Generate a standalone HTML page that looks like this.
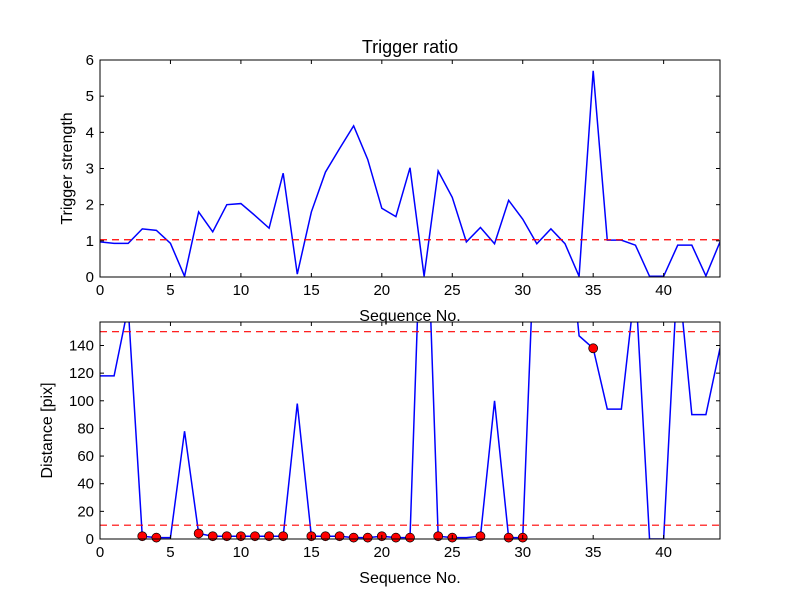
<!DOCTYPE html>
<html><head><meta charset="utf-8"><style>
body{margin:0;background:#fff;}
svg text{font-family:"Liberation Sans","DejaVu Sans",sans-serif;fill:#000;}
</style></head><body>
<svg id="chart" width="800" height="600" xmlns="http://www.w3.org/2000/svg">
<rect width="800" height="600" fill="#fff"/>
</svg>
<script>
const seqNo = Array.from({length:45},(_,i)=>i);
const triggerStrength = [0.97,0.93,0.93,1.33,1.29,0.93,0.02,1.8,1.25,2.0,2.03,1.7,1.35,2.87,0.08,1.8,2.9,3.55,4.18,3.25,1.9,1.67,3.02,0.02,2.93,2.2,0.97,1.37,0.92,2.12,1.6,0.92,1.33,0.92,0.02,5.7,1.02,1.02,0.88,0.02,0.02,0.88,0.88,0.03,0.97];
const triggerThreshold = 1.03;
const distance = [118,118,168,2,1,1,78,4,2,2,2,2,2,2,98,2,2,2,1,1,2,1,1,300,2,1,1,2,100,1,1,260,250,250,147,138,94,94,185,0,0,196,90,90,138];
const markerIdx = [3,4,7,8,9,10,11,12,13,15,16,17,18,19,20,21,22,24,25,27,29,30,35];
const distLines = [150,10];
const xTicks = [0,5,10,15,20,25,30,35,40];
const topYTicks = [0,1,2,3,4,5,6];
const botYTicks = [0,20,40,60,80,100,120,140];

const NS="http://www.w3.org/2000/svg";
const svg=document.getElementById('chart');
function el(tag,attrs,parent){const e=document.createElementNS(NS,tag);for(const k in attrs)e.setAttribute(k,attrs[k]);(parent||svg).appendChild(e);return e;}
const L=100,R=720;
const xS=v=>L+(v-0)/44*(R-L);

function panel(top,bot,ymax,yTicks,name,ylabel){
  const yS=v=>bot-(v/ymax)*(bot-top);
  const g=el('g',{});
  
  
  const cid='clip-'+name;
  const cp=el('clipPath',{id:cid},g);el('rect',{x:L,y:top,width:R-L,height:bot-top},cp);
  const plot=el('g',{'clip-path':'url(#'+cid+')'},g);
  return {g,plot,yS,top,bot,yTicks,ylabel};
}
function axes(p){
  const {g,yS,top,bot}=p;
  el('rect',{x:L,y:top,width:R-L,height:bot-top,fill:'none',stroke:'#000','stroke-width':1},g);
  xTicks.forEach(t=>{const x=xS(t);
    el('line',{x1:x,x2:x,y1:bot,y2:bot-4,stroke:'#000'},g);
    el('line',{x1:x,x2:x,y1:top,y2:top+4,stroke:'#000'},g);
    const tx=el('text',{x:x,y:bot+18,'text-anchor':'middle','font-size':15},g);tx.textContent=t;
    
    
  });
  p.yTicks.forEach(t=>{const y=yS(t);
    el('line',{x1:L,x2:L+4,y1:y,y2:y,stroke:'#000'},g);
    el('line',{x1:R,x2:R-4,y1:y,y2:y,stroke:'#000'},g);
    const tx=el('text',{x:L-6,y:y+5,'text-anchor':'end','font-size':15},g);tx.textContent=t;
    
    
  });
  const xl=el('text',{x:(L+R)/2,y:bot+44,'text-anchor':'middle','font-size':16},g);xl.textContent='Sequence No.';
  
  
  const cy=(top+bot)/2;
  const yl=el('text',{x:0,y:0,'text-anchor':'middle','font-size':16,transform:`translate(${p.ylabel[1]},${cy}) rotate(-90)`},g);yl.textContent=p.ylabel[0];
  
  
}

// Top panel
const p1=panel(60,277,6,topYTicks,'trigger-strength-panel',['Trigger strength',72]);
const tl=el('polyline',{points:seqNo.map((s,i)=>xS(s)+','+p1.yS(triggerStrength[i])).join(' '),fill:'none',stroke:'#0000ff','stroke-width':1.5},p1.plot);


const th=el('line',{x1:L,x2:R,y1:p1.yS(triggerThreshold),y2:p1.yS(triggerThreshold),stroke:'#ff0000','stroke-width':1.2,'stroke-dasharray':'7,5'},p1.plot);


axes(p1);
const title=el('text',{x:(L+R)/2,y:53,'text-anchor':'middle','font-size':18});title.textContent='Trigger ratio';



// Bottom panel
const p2=panel(322,539,157,botYTicks,'distance-panel',['Distance [pix]',52]);
const dl=el('polyline',{points:seqNo.map((s,i)=>xS(s)+','+p2.yS(distance[i])).join(' '),fill:'none',stroke:'#0000ff','stroke-width':1.5},p2.plot);


distLines.forEach(v=>{
  const l=el('line',{x1:L,x2:R,y1:p2.yS(v),y2:p2.yS(v),stroke:'#ff0000','stroke-width':1.2,'stroke-dasharray':'7,5'},p2.plot);
  
  
});
markerIdx.forEach(i=>{
  const c=el('circle',{cx:xS(seqNo[i]),cy:p2.yS(distance[i]),r:4.5,fill:'#ff0000',stroke:'#000','stroke-width':0.7},p2.g);
  
  
});
axes(p2);
</script>
</body></html>
